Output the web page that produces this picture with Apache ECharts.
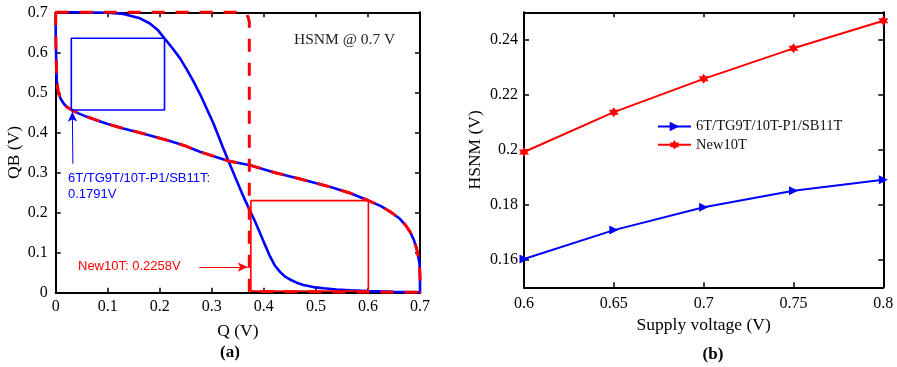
<!DOCTYPE html>
<html>
<head>
<meta charset="utf-8">
<script src="https://cdn.jsdelivr.net/npm/echarts@6/dist/echarts.min.js"></script>
<style>
  html, body { margin: 0; padding: 0; background: #fff; }
  #chart { width: 897px; height: 367px; }
</style>
</head>
<body>
<div id="chart"></div>
<script>
// ---------- (a) butterfly curves: HSNM @ 0.7 V ----------
// Shared inverter transfer curve (QB -> Q side), common to both cells
const vtcShared = [
  [0.000, 0.700], [0.000, 0.650], [0.001, 0.580], [0.002, 0.530], [0.005, 0.500],
  [0.010, 0.483], [0.016, 0.471], [0.022, 0.463], [0.031, 0.456], [0.045, 0.447],
  [0.060, 0.439], [0.080, 0.430], [0.100, 0.421], [0.130, 0.410], [0.160, 0.400],
  [0.213, 0.381], [0.250, 0.366], [0.277, 0.352], [0.305, 0.340], [0.332, 0.329],
  [0.374, 0.318], [0.420, 0.300], [0.470, 0.284], [0.528, 0.264], [0.565, 0.249],
  [0.601, 0.230], [0.625, 0.216], [0.643, 0.202], [0.660, 0.186], [0.672, 0.169],
  [0.681, 0.152], [0.688, 0.132], [0.692, 0.117], [0.695, 0.102], [0.697, 0.088],
  [0.699, 0.073], [0.700, 0.040], [0.700, 0.000]
];
// 6T/TG9T/10T-P1/SB11T transfer curve (Q -> QB side)
const vtcBaseline = [
  [0.000, 0.700], [0.050, 0.700], [0.100, 0.699], [0.130, 0.696], [0.162, 0.685],
  [0.181, 0.672], [0.196, 0.656], [0.209, 0.635], [0.224, 0.611], [0.239, 0.585],
  [0.252, 0.557], [0.265, 0.527], [0.278, 0.494], [0.290, 0.460], [0.303, 0.423],
  [0.310, 0.400], [0.320, 0.367], [0.332, 0.329], [0.345, 0.288], [0.358, 0.248],
  [0.372, 0.208], [0.382, 0.181], [0.393, 0.148], [0.402, 0.120], [0.412, 0.090],
  [0.421, 0.068], [0.431, 0.052], [0.440, 0.041], [0.450, 0.033], [0.463, 0.025],
  [0.476, 0.019], [0.495, 0.014], [0.515, 0.011], [0.540, 0.008], [0.566, 0.006],
  [0.600, 0.004], [0.650, 0.002], [0.700, 0.001]
];
// New10T transfer curve (Q -> QB side)
const vtcNew10T = [
  [0.000, 0.700], [0.300, 0.700], [0.355, 0.700], [0.362, 0.698], [0.367, 0.694],
  [0.370, 0.687], [0.372, 0.676], [0.372, 0.600], [0.372, 0.003], [0.700, 0.001]
];
// Largest embedded squares: lower-left corner and side (= HSNM)
const squareBaselineOrigin = [0.0300, 0.4560];
const squareBaselineSide = 0.1791;
const squareNew10TOrigin = [0.3750, 0.0040];
const squareNew10TSide = 0.2258;

// ---------- (b) HSNM versus supply voltage ----------
const supplyVoltage = [0.6, 0.65, 0.7, 0.75, 0.8];
const hsnmBaseline = [0.1603, 0.1708, 0.1791, 0.1851, 0.1891];
const hsnmNew10T = [0.1992, 0.2137, 0.2258, 0.2369, 0.2469];
const hsnmTicks = [0.16, 0.18, 0.20, 0.22, 0.24];

const nameBaseline = '6T/TG9T/10T-P1/SB11T';
const nameNew10T = 'New10T';

const SERIF = "'Times New Roman', 'Liberation Serif', serif";
const SANS = "Arial, 'Liberation Sans', sans-serif";
const BLUE = '#0000ff';
const RED = '#ff0000';

function squarePath(origin, side) {
  const [x0, y0] = origin;
  return [[x0, y0], [x0 + side, y0], [x0 + side, y0 + side], [x0, y0 + side], [x0, y0]];
}
function fmt(v) { return String(+(+v).toFixed(4)); }

function valueAxis(extra) {
  return Object.assign({
    type: 'value',
    axisLine: { show: true, onZero: false, lineStyle: { color: '#000', width: 2 } },
    axisTick: { show: true, inside: true, length: 5, lineStyle: { color: '#000', width: 1.5 } },
    splitLine: { show: false },
    axisLabel: { color: '#000', fontFamily: SERIF, fontSize: 16, formatter: fmt },
    nameTextStyle: { color: '#000', fontFamily: SERIF, fontSize: 17.5 }
  }, extra);
}
function mirrorAxis(extra) {
  const a = valueAxis(extra);
  a.axisLabel = { show: false };
  return a;
}

const chart = echarts.init(document.getElementById('chart'), null, { renderer: 'canvas' });

const option = {
  animation: false,
  backgroundColor: '#fff',
  grid: [
    { left: 55.7, top: 12.3, width: 364.3, height: 280.4 },
    { left: 524, top: 12.3, width: 359.3, height: 275 }
  ],
  xAxis: [
    valueAxis({ gridIndex: 0, position: 'bottom', min: 0, max: 0.7, interval: 0.1,
      name: 'Q (V)', nameLocation: 'middle', nameGap: 30,
      axisLabel: { color: '#000', fontFamily: SERIF, fontSize: 16, margin: 6, formatter: fmt } }),
    mirrorAxis({ gridIndex: 0, position: 'top', min: 0, max: 0.7, interval: 0.1 }),
    valueAxis({ gridIndex: 1, position: 'bottom', min: 0.6, max: 0.8, interval: 0.05,
      name: 'Supply voltage (V)', nameLocation: 'middle', nameGap: 28,
      axisLabel: { color: '#000', fontFamily: SERIF, fontSize: 16, margin: 8, formatter: fmt } }),
    mirrorAxis({ gridIndex: 1, position: 'top', min: 0.6, max: 0.8, interval: 0.05 })
  ],
  yAxis: [
    valueAxis({ gridIndex: 0, position: 'left', min: 0, max: 0.7, interval: 0.1,
      name: 'QB (V)', nameLocation: 'middle', nameGap: 30,
      axisLabel: { color: '#000', fontFamily: SERIF, fontSize: 16, margin: 8, formatter: fmt } }),
    mirrorAxis({ gridIndex: 0, position: 'right', min: 0, max: 0.7, interval: 0.1 }),
    valueAxis({ gridIndex: 1, position: 'left', min: 0.15, max: 0.25,
      name: 'HSNM (V)', nameLocation: 'middle', nameGap: 40,
      axisTick: { show: true, inside: true, length: 5, customValues: hsnmTicks, lineStyle: { color: '#000', width: 1.5 } },
      axisLabel: { color: '#000', fontFamily: SERIF, fontSize: 16, margin: 6, customValues: hsnmTicks, formatter: fmt } }),
    Object.assign(mirrorAxis({ gridIndex: 1, position: 'right', min: 0.15, max: 0.25 }), {
      axisTick: { show: true, inside: true, length: 5, customValues: hsnmTicks, lineStyle: { color: '#000', width: 1.5 } }
    })
  ],
  legend: {
    data: [nameBaseline, nameNew10T],
    orient: 'vertical',
    left: 652, top: 114,
    itemWidth: 33, itemHeight: 12, itemGap: 3.3,
    textStyle: { color: '#111', fontFamily: SERIF, fontSize: 14.5, lineHeight: 14 }
  },
  series: [
    // ----- (a) -----
    { name: 'vtc-shared-baseline', type: 'line', xAxisIndex: 0, yAxisIndex: 0, data: vtcShared,
      showSymbol: false, clip: false, z: 2, lineStyle: { color: BLUE, width: 2.6 } },
    { name: 'vtc-baseline', type: 'line', xAxisIndex: 0, yAxisIndex: 0, data: vtcBaseline,
      showSymbol: false, clip: false, z: 2, lineStyle: { color: BLUE, width: 2.6 } },
    { name: 'vtc-shared-new10t', type: 'line', xAxisIndex: 0, yAxisIndex: 0, data: vtcShared,
      showSymbol: false, clip: false, z: 3, lineStyle: { color: RED, width: 3, type: [13, 11] } },
    { name: 'vtc-new10t', type: 'line', xAxisIndex: 0, yAxisIndex: 0, data: vtcNew10T,
      showSymbol: false, clip: false, z: 3, lineStyle: { color: RED, width: 3, type: [13, 11] } },
    { name: 'square-baseline', type: 'line', xAxisIndex: 0, yAxisIndex: 0,
      data: squarePath(squareBaselineOrigin, squareBaselineSide),
      showSymbol: false, clip: false, z: 4, lineStyle: { color: BLUE, width: 1.6 },
      markLine: {
        silent: true, symbol: ['none', 'arrow'], symbolSize: [7, 10],
        lineStyle: { color: BLUE, width: 1, type: 'solid' }, label: { show: false },
        data: [[{ coord: [0.033, 0.322] }, { coord: [0.032, 0.452] }]]
      } },
    { name: 'square-new10t', type: 'line', xAxisIndex: 0, yAxisIndex: 0,
      data: squarePath(squareNew10TOrigin, squareNew10TSide),
      showSymbol: false, clip: false, z: 4, lineStyle: { color: RED, width: 1.6 },
      markLine: {
        silent: true, symbol: ['none', 'arrow'], symbolSize: [7, 10],
        lineStyle: { color: RED, width: 1, type: 'solid' }, label: { show: false },
        data: [[{ coord: [0.276, 0.064] }, { coord: [0.369, 0.064] }]]
      } },
    // ----- (b) -----
    { name: nameBaseline, type: 'line', xAxisIndex: 2, yAxisIndex: 2,
      data: supplyVoltage.map((v, i) => [v, hsnmBaseline[i]]),
      symbol: 'triangle', symbolRotate: -90, symbolSize: 9, clip: false,
      lineStyle: { color: BLUE, width: 2 }, itemStyle: { color: BLUE } },
    { name: nameNew10T, type: 'line', xAxisIndex: 2, yAxisIndex: 2,
      data: supplyVoltage.map((v, i) => [v, hsnmNew10T[i]]),
      symbol: 'path://M0,-10 L2.89,-5 L8.66,-5 L5.77,0 L8.66,5 L2.89,5 L0,10 L-2.89,5 L-8.66,5 L-5.77,0 L-8.66,-5 L-2.89,-5 Z',
      symbolSize: 10, clip: false,
      lineStyle: { color: RED, width: 2 }, itemStyle: { color: RED } }
  ],
  graphic: [
    { type: 'text', left: 294, top: 32, style: { text: 'HSNM @ 0.7 V', font: '15.5px ' + SERIF, fill: '#222' } },
    { type: 'text', left: 68, top: 172, style: { text: nameBaseline + ':', font: '13px ' + SANS, fill: BLUE } },
    { type: 'text', left: 68, top: 188, style: { text: fmt(squareBaselineSide) + 'V', font: '13px ' + SANS, fill: BLUE } },
    { type: 'text', left: 78, top: 260, style: { text: nameNew10T + ': ' + fmt(squareNew10TSide) + 'V', font: '13px ' + SANS, fill: RED } },
    { type: 'text', x: 230, y: 353, style: { text: '(a)', font: 'bold 17px ' + SERIF, fill: '#000', textAlign: 'center', textVerticalAlign: 'middle' } },
    { type: 'text', x: 713, y: 355, style: { text: '(b)', font: 'bold 17px ' + SERIF, fill: '#000', textAlign: 'center', textVerticalAlign: 'middle' } }
  ]
};

chart.setOption(option);
</script>
</body>
</html>
